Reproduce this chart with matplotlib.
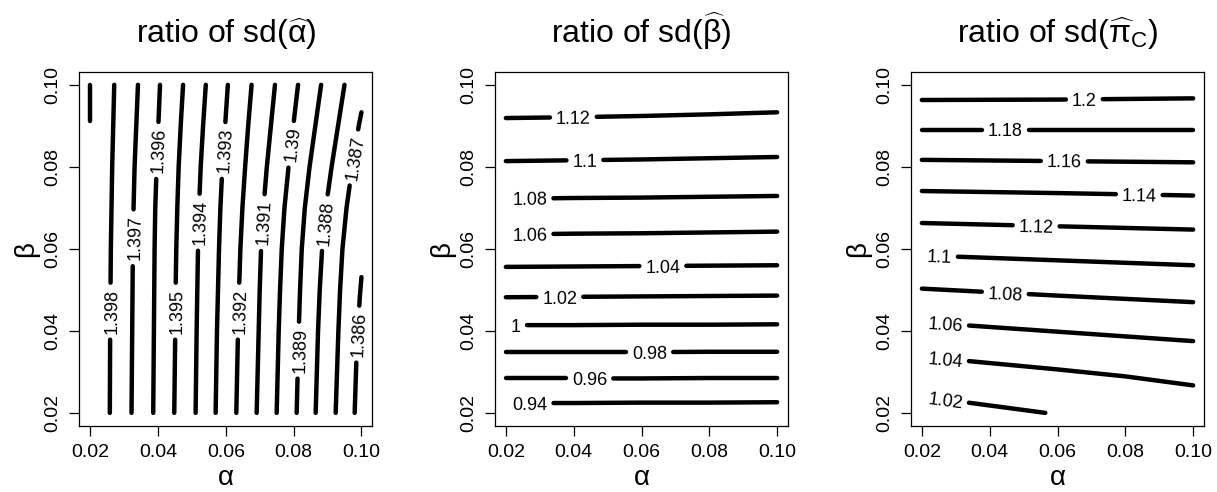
import numpy as np
import matplotlib.pyplot as plt
from matplotlib.ticker import FormatStrFormatter

plt.rcParams['font.family'] = ['Liberation Sans', 'DejaVu Sans']
plt.rcParams['mathtext.fontset'] = 'custom'
plt.rcParams['mathtext.rm'] = 'Liberation Sans'
plt.rcParams['mathtext.it'] = 'Liberation Sans:italic'
plt.rcParams['mathtext.default'] = 'regular'

# ---- panel 1: ratio of sd(alpha-hat), near-vertical contours ----
a_levels = ['1.399', '1.398', '1.397', '1.396', '1.395', '1.394', '1.393',
            '1.392', '1.391', '1.39', '1.389', '1.388', '1.387', '1.386']
a_grid = [0.02, 0.04, 0.05, 0.06, 0.07, 0.08, 0.09, 0.10]
a_beta = [
    [0.0912, 0.10],
    a_grid, a_grid, a_grid, a_grid, a_grid, a_grid,
    a_grid, a_grid, a_grid, a_grid, a_grid,
    [0.02, 0.04, 0.05, 0.06, 0.07, 0.08, 0.09, 0.0933],
    [0.02, 0.0326, 0.0481, 0.0531],
]
a_alpha = [
    [0.0200, 0.0200],
    [0.0258, 0.0259, 0.0260, 0.0261, 0.0263, 0.0265, 0.0268, 0.0271],
    [0.0322, 0.0324, 0.0325, 0.0326, 0.0328, 0.0331, 0.0336, 0.0341],
    [0.0386, 0.0388, 0.0389, 0.0390, 0.0392, 0.0396, 0.0401, 0.0406],
    [0.0448, 0.0451, 0.0452, 0.0454, 0.0457, 0.0461, 0.0467, 0.0474],
    [0.0511, 0.0514, 0.0516, 0.0518, 0.0521, 0.0526, 0.0533, 0.0541],
    [0.0570, 0.0574, 0.0577, 0.0580, 0.0584, 0.0590, 0.0598, 0.0606],
    [0.0631, 0.0636, 0.0639, 0.0643, 0.0649, 0.0657, 0.0666, 0.0676],
    [0.0691, 0.0697, 0.0700, 0.0704, 0.0711, 0.0721, 0.0733, 0.0745],
    [0.0750, 0.0756, 0.0760, 0.0765, 0.0773, 0.0785, 0.0799, 0.0813],
    [0.0809, 0.0815, 0.0819, 0.0824, 0.0833, 0.0847, 0.0864, 0.0881],
    [0.0865, 0.0872, 0.0877, 0.0884, 0.0895, 0.0912, 0.0931, 0.0950],
    [0.0924, 0.0932, 0.0937, 0.0944, 0.0956, 0.0973, 0.0992, 0.1000],
    [0.0980, 0.0985, 0.0995, 0.1000],
]
a_label_beta = [None, 0.0448, 0.0627, 0.0840, 0.0448, 0.0665, 0.0840,
                0.0448, 0.0664, 0.0855, 0.0353, 0.0664, 0.0823, 0.0392]

# ---- panel 2: ratio of sd(beta-hat), near-horizontal contours ----
b_levels = ['1.12', '1.1', '1.08', '1.06', '1.04', '1.02', '1',
            '0.98', '0.96', '0.94']
b_alpha = [0.02, 0.04, 0.06, 0.08, 0.10]
b_beta = [
    [0.0919, 0.0921, 0.0924, 0.0928, 0.0933],
    [0.0814, 0.0816, 0.0818, 0.0821, 0.0824],
    [0.0722, 0.0724, 0.0725, 0.0727, 0.0729],
    [0.0635, 0.0637, 0.0638, 0.0640, 0.0642],
    [0.0556, 0.0557, 0.0558, 0.0559, 0.0560],
    [0.0482, 0.0483, 0.0484, 0.0485, 0.0486],
    [0.0414, 0.0414, 0.0415, 0.0415, 0.0416],
    [0.0348, 0.0348, 0.0348, 0.0349, 0.0349],
    [0.0284, 0.0284, 0.0284, 0.0285, 0.0285],
    [0.0224, 0.0224, 0.0225, 0.0225, 0.0226],
]
b_label_alpha = [0.0399, 0.0433, 0.0271, 0.0271, 0.0663, 0.0359, 0.0230,
                 0.0624, 0.0447, 0.0271]

# ---- panel 3: ratio of sd(pi_C-hat) ----
c_levels = ['1.2', '1.18', '1.16', '1.14', '1.12', '1.1', '1.08', '1.06',
            '1.04', '1.02']
c_alpha = [
    [0.02, 0.06, 0.10],
    [0.02, 0.06, 0.10],
    [0.02, 0.06, 0.10],
    [0.02, 0.06, 0.10],
    [0.02, 0.06, 0.10],
    [0.02, 0.06, 0.10],
    [0.02, 0.06, 0.10],
    [0.02, 0.06, 0.10],
    [0.02, 0.06, 0.08, 0.10],
    [0.02, 0.0564],
]
c_beta = [
    [0.0963, 0.0964, 0.0967],
    [0.0891, 0.0891, 0.0891],
    [0.0817, 0.0814, 0.0811],
    [0.0741, 0.0736, 0.0730],
    [0.0663, 0.0655, 0.0647],
    [0.0584, 0.0572, 0.0560],
    [0.0503, 0.0486, 0.0470],
    [0.0421, 0.0398, 0.0375],
    [0.0337, 0.0306, 0.0289, 0.0267],
    [0.0240, 0.0200],
]
c_label_alpha = [0.0679, 0.0446, 0.0620, 0.0841, 0.0537, 0.0252, 0.0446,
                 0.0270, 0.0270, 0.0270]

titles = [r'ratio of sd($\widehat{\alpha}$)',
          r'ratio of sd($\widehat{\beta}$)',
          r'ratio of sd($\widehat{\pi}_{C}$)']
ticks = [0.02, 0.04, 0.06, 0.08, 0.10]

fig = plt.figure(figsize=(12.17, 4.92), dpi=100)
lefts = [79.3 / 1217, 495 / 1217, 911 / 1217]
axes = [fig.add_axes([l, 66 / 492, 293 / 1217, 354.3 / 492]) for l in lefts]
renderer = fig.canvas.get_renderer()

LW = 3.2
FS_LAB = 13
GAP = 6        # px left free on each side of a contour label
MIN_PIECE = 10  # drop leftover line stubs shorter than this (px)


def contour_line(ax, xs, ys, lab=None, xc=None, yc=None):
    P = ax.transData.transform(np.column_stack([xs, ys]))
    d = np.diff(P, axis=0)
    L = np.hypot(d[:, 0], d[:, 1])
    s = np.r_[0, np.cumsum(L)]
    kw = dict(color='black', lw=LW, solid_capstyle='round', zorder=2)
    if lab is None:
        ax.plot(xs, ys, **kw)
        return
    c = ax.transData.transform((xc, yc))
    best = None
    for i in range(len(L)):
        t = np.clip(np.dot(c - P[i], d[i]) / L[i] ** 2, 0, 1)
        dist = np.hypot(*(P[i] + t * d[i] - c))
        if best is None or dist < best[0]:
            best = (dist, i, s[i] + t * L[i])
    _, i0, s0 = best
    ang = np.degrees(np.arctan2(d[i0, 1], d[i0, 0]))
    txt = ax.text(xc, yc, lab, fontsize=FS_LAB, ha='center',
                  va='center_baseline', rotation_mode='anchor', zorder=2.3)
    h = txt.get_window_extent(renderer).width / 2 + GAP
    txt.set_rotation(ang)

    def at(sv):
        k = int(np.clip(np.searchsorted(s, sv, side='right') - 1, 0, len(L) - 1))
        return P[k] + (sv - s[k]) / L[k] * d[k]

    pieces = []
    if s0 - h > MIN_PIECE:
        pieces.append([P[k] for k in range(len(P)) if s[k] < s0 - h] + [at(s0 - h)])
    if s0 + h < s[-1] - MIN_PIECE:
        pieces.append([at(s0 + h)] + [P[k] for k in range(len(P)) if s[k] > s0 + h])
    inv = ax.transData.inverted()
    for pts in pieces:
        q = inv.transform(np.array(pts))
        ax.plot(q[:, 0], q[:, 1], **kw)


for ax, title in zip(axes, titles):
    ax.set_xlim(0.0168, 0.1032)
    ax.set_ylim(0.0168, 0.1032)
    ax.set_xticks(ticks)
    ax.set_yticks(ticks)
    ax.xaxis.set_major_formatter(FormatStrFormatter('%.2f'))
    ax.yaxis.set_major_formatter(FormatStrFormatter('%.2f'))
    ax.tick_params(length=7, width=0.9, labelsize=14, pad=6)
    ax.tick_params(axis='y', labelrotation=90)
    for lab in ax.get_yticklabels():
        lab.set_va('center')
    for sp in ax.spines.values():
        sp.set_linewidth(0.9)
    ax.set_title(title, fontsize=23, pad=21)
    ax.set_xlabel('α', fontsize=20, va='center')
    ax.xaxis.set_label_coords(0.5, -0.146)
    ax.set_ylabel('β', fontsize=20, va='center')
    ax.yaxis.set_label_coords(-0.18, 0.5)

# panel 1
ax = axes[0]
for lev, xs, ys, lb in zip(a_levels, a_alpha, a_beta, a_label_beta):
    if lb is None:
        contour_line(ax, xs, ys)
    else:
        contour_line(ax, xs, ys, lev, np.interp(lb, ys, xs), lb)

# panel 2
ax = axes[1]
for lev, ys, la in zip(b_levels, b_beta, b_label_alpha):
    contour_line(ax, b_alpha, ys, lev, la, np.interp(la, b_alpha, ys))

# panel 3
ax = axes[2]
for lev, xs, ys, la in zip(c_levels, c_alpha, c_beta, c_label_alpha):
    contour_line(ax, xs, ys, lev, la, np.interp(la, xs, ys))

fig.savefig('out.png', dpi=100)
